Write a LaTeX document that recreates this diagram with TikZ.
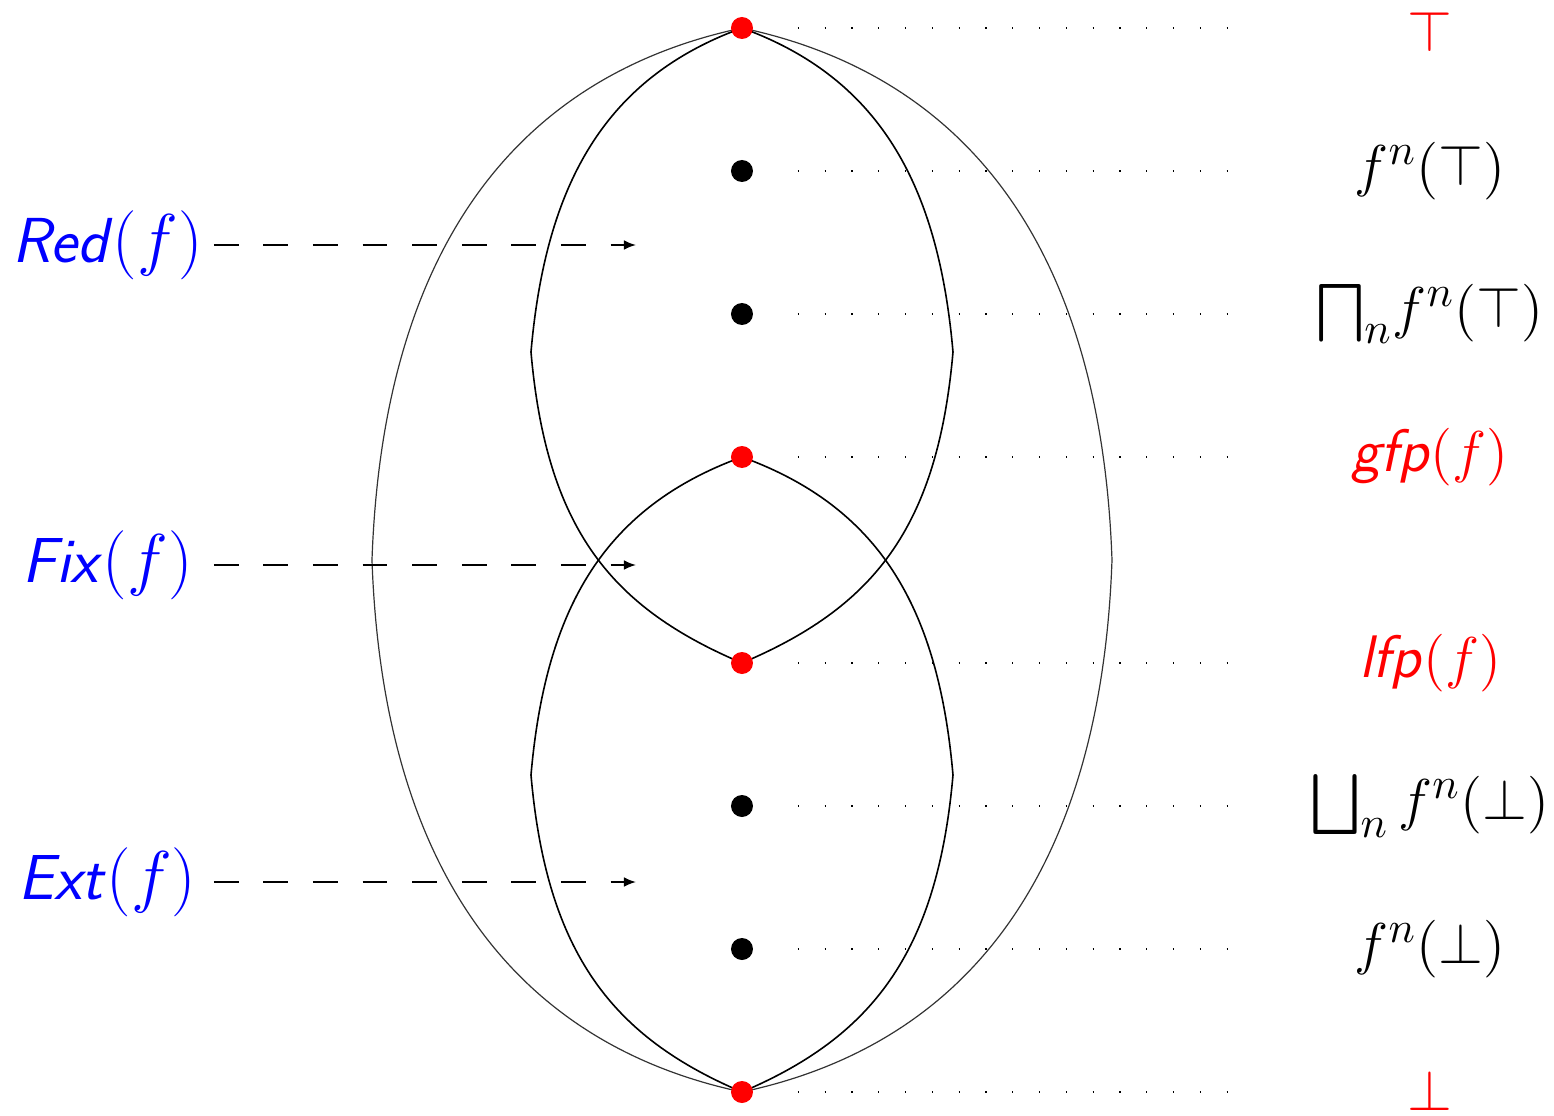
\documentclass[tikz,border=0pt]{standalone}
\usepackage{amsmath,amssymb}
\usepackage{stmaryrd}
\usetikzlibrary{arrows.meta,positioning}

\begin{document}
\begin{tikzpicture}[x=2.5pt,y=2.5pt,
    pt/.style={circle,fill=black,inner sep=0pt,minimum size=5.5pt},
    fixpt/.style={pt,fill=red},
    guide/.style={line width=0.3pt,dash pattern=on 0.3pt off 6.4pt,shorten <=11pt},
    setlab/.style={blue,font=\fontsize{15.9}{19}\selectfont,inner sep=0pt,minimum width=52.75pt},
    setarrow/.style={line width=0.4pt,dash pattern=on 6.2pt off 6.2pt,-{Latex[length=3pt,width=2.4pt]}},
    ptlab/.style={font=\fontsize{15}{18}\selectfont,inner sep=0pt},
    outer/.style={line width=0.3pt,black!80},
    inner/.style={line width=0.4pt}]
  \useasboundingbox (-74.2,-55.5) rectangle (81.2,56);

  % points of the lattice
  \coordinate (ctop) at (0,53.2);
  \coordinate (cgfp) at (0,10.3);
  \coordinate (clfp) at (0,-10.3);
  \coordinate (cbot) at (0,-53.2);
  \coordinate (gend) at (49.0,0);

  % the whole lattice
  \draw[outer] (ctop) .. controls +(192:24) and +(88:30) .. (-37,0)
    .. controls +(272:30) and +(168:24) .. (cbot)
    .. controls +(12:24) and +(268:30) .. (37,0)
    .. controls +(92:30) and +(-12:24) .. (ctop);
  % Red(f)
  \draw[inner] (ctop) .. controls +(200:14.5) and +(85:17) .. (-21.1,20.8)
    .. controls +(275:18) and +(157:14) .. (clfp)
    .. controls +(23:14) and +(265:18) .. (21.1,20.8)
    .. controls +(95:17) and +(-20:14.5) .. (ctop);
  % Ext(f)
  \draw[inner] (cgfp) .. controls +(200:14.5) and +(85:17) .. (-21.1,-21.5)
    .. controls +(275:18) and +(157:14) .. (cbot)
    .. controls +(23:14) and +(265:18) .. (21.1,-21.5)
    .. controls +(95:17) and +(-20:14.5) .. (cgfp);

  \node[fixpt] (top) at (ctop) {};
  \node[pt] (a1) at (0,38.9) {};
  \node[pt] (a2) at (0,24.6) {};
  \node[fixpt] (gfp) at (cgfp) {};
  \node[fixpt] (lfp) at (clfp) {};
  \node[pt] (b2) at (0,-24.6) {};
  \node[pt] (b1) at (0,-38.9) {};
  \node[fixpt] (bot) at (cbot) {};

  \foreach \p in {top,a1,a2,gfp,lfp,b2,b1,bot}
    \draw[guide] (\p) -- (\p -| gend);

  % names of the points
  \node[ptlab,red] (ltop) at (68.8,52.8) {$\top$};
  \node[ptlab] (la1) at (68.8,38.9) {$f^n(\top)$};
  \node[ptlab] (la2) at (68.8,24.6) {${\bigsqcap}_n f^n(\top)$};
  \node[ptlab,red] (lgfp) at (68.8,10.3) {\textsf{\textit{gfp}}$(f)$};
  \node[ptlab,red] (llfp) at (68.8,-10.3) {\textsf{\textit{lfp}}$(f)$};
  \node[ptlab] (lb2) at (68.8,-24.6) {$\bigsqcup\nolimits_n f^n(\bot)$};
  \node[ptlab] (lb1) at (68.8,-38.9) {$f^n(\bot)$};
  \node[ptlab,red] (lbot) at (68.8,-53.0) {$\bot$};

  % the three sets
  \node[setlab] (red) at (-63.45,31.5) {\textsf{\textit{Red}}$(f)$};
  \node[setlab] (fix) at (-63.45,-0.5) {\textsf{\textit{Fix}}$(f)$};
  \node[setlab] (ext) at (-63.45,-32.2) {\textsf{\textit{Ext}}$(f)$};
  \coordinate (redtip) at (-10.6,31.5);
  \coordinate (fixtip) at (-10.6,-0.5);
  \coordinate (exttip) at (-10.6,-32.2);
  \draw[setarrow] (red) -- (redtip);
  \draw[setarrow] (fix) -- (fixtip);
  \draw[setarrow] (ext) -- (exttip);
\end{tikzpicture}
\end{document}
